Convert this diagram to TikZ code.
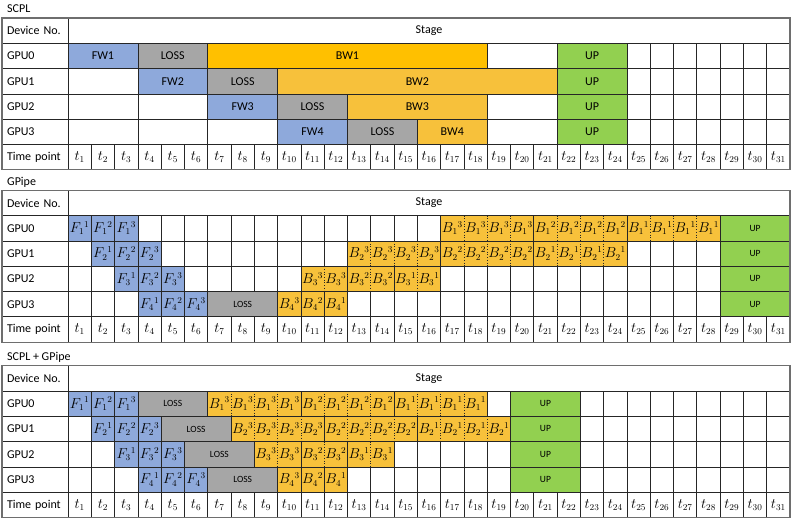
\documentclass[tikz,border=0pt]{standalone}
\usepackage{fontspec}
\setmainfont{Carlito}
\definecolor{gridc}{HTML}{262626}
\definecolor{framec}{HTML}{6E6E6E}
\definecolor{fwc}{HTML}{8EA9DB}
\definecolor{lossc}{HTML}{A6A6A6}
\definecolor{bwac}{HTML}{FFC000}
\definecolor{bwc}{HTML}{F7C13B}
\definecolor{upc}{HTML}{92D050}
\def\cw{23.29}
\def\rh{25.3}
\newcommand\mth[1]{{\fontsize{13.5}{15}\selectfont$#1$}}
\tikzset{
  cell/.style={draw=gridc, line width=0.7pt, inner sep=0pt, outer sep=0pt, anchor=north west, font=\fontsize{12}{14}\selectfont},
  fw/.style={fill=fwc},
  loss/.style={fill=lossc},
  bwa/.style={fill=bwac},
  bw/.style={fill=bwc},
  up/.style={fill=upc},
  emp/.style={fill=white},
  small/.style={font=\fontsize{9.5}{11}\selectfont},
  lbl/.style={inner sep=0pt, font=\fontsize{12}{14}\selectfont},
  dots/.style={draw=gridc, line width=0.7pt, dotted},
  labcell/.style={cell, fill=white, minimum width=66pt, minimum height=\rh pt, text width=57pt, inner xsep=5pt, align=left},
  ttl/.style={inner sep=0pt, anchor=west, font=\fontsize{12}{14}\selectfont},
  outer/.style={draw=framec, line width=1.2pt}
}
\newcommand\seg[7]{%
  \pgfmathsetmacro\sx{68+((#4)-1)*\cw}%
  \pgfmathsetmacro\sy{(#2)+(#3)*\rh}%
  \pgfmathsetmacro\sw{((#5)-(#4)+1)*\cw}%
  \node[cell,#6,minimum width=\sw pt,minimum height=\rh pt] (#1) at (\sx,\sy) {#7};%
}
\newcommand\grp[7]{%
  \seg{#1}{#2}{#3}{#4}{(#4)+(#5)-1}{#6}{}%
  \pgfmathsetmacro\gy{(#2)+(#3)*\rh}%
  \pgfmathsetmacro\gyb{(#2)+((#3)+1)*\rh}%
  \pgfmathsetmacro\gyc{(#2)+((#3)+0.5)*\rh}%
  \pgfmathtruncatemacro\gn{(#5)-1}%
  \foreach \k in {1,...,\gn}{%
    \pgfmathsetmacro\gx{68+((#4)-1+\k)*\cw}%
    \draw[dots] (\gx,\gy) -- (\gx,\gyb);%
  }%
  \foreach \k in {1,...,#5}{%
    \pgfmathsetmacro\gx{68+((#4)-1.5+\k)*\cw}%
    \node[lbl] (#1-\k) at (\gx,\gyc) {\mth{#7}};%
  }%
}
\newcommand\emps[5]{% prefix, top, row, from, to
  \foreach \c in {#4,...,#5}{\seg{#1\c}{#2}{#3}{\c}{\c}{emp}{}}%
}
\newcommand\tblframe[2]{% prefix, top
  \pgfmathsetmacro\fy{#2}%
  \node[labcell] (#1dev) at (2,\fy) {Device No.};
  \pgfmathsetmacro\fy{#2+\rh}%
  \node[labcell] (#1g0) at (2,\fy) {GPU0};
  \pgfmathsetmacro\fy{#2+2*\rh}%
  \node[labcell] (#1g1) at (2,\fy) {GPU1};
  \pgfmathsetmacro\fy{#2+3*\rh}%
  \node[labcell] (#1g2) at (2,\fy) {GPU2};
  \pgfmathsetmacro\fy{#2+4*\rh}%
  \node[labcell] (#1g3) at (2,\fy) {GPU3};
  \pgfmathsetmacro\fy{#2+5*\rh}%
  \node[labcell] (#1tp) at (2,\fy) {Time point};
  \seg{#1stage}{#2}{0}{1}{31}{emp}{Stage}%
  \foreach \c in {1,...,31}{\seg{#1t\c}{#2}{5}{\c}{\c}{emp}{\mth{t_{\c}}}}%
}
\newcommand\outerframe[1]{%
  \pgfmathsetmacro\oy{#1}\pgfmathsetmacro\oyb{#1+6*\rh}%
  \draw[outer] (2,\oy) rectangle (790,\oyb);%
}
\begin{document}
\begin{tikzpicture}[x=1pt,y=-1pt]
\useasboundingbox (0,0) rectangle (793,527);
% ---------- SCPL ----------
\def\T{18}
\node[ttl] (titleA) at (7,9) {SCPL};
\tblframe{a}{\T}
\seg{a1a}{\T}{1}{1}{3}{fw}{FW1}
\seg{a1b}{\T}{1}{4}{6}{loss}{LOSS}
\seg{a1c}{\T}{1}{7}{18}{bwa}{BW1}
\seg{a1d}{\T}{1}{19}{21}{emp}{}
\seg{a1e}{\T}{1}{22}{24}{up}{UP}
\emps{a1x}{\T}{1}{25}{31}
\seg{a2a}{\T}{2}{1}{3}{emp}{}
\seg{a2b}{\T}{2}{4}{6}{fw}{FW2}
\seg{a2c}{\T}{2}{7}{9}{loss}{LOSS}
\seg{a2d}{\T}{2}{10}{21}{bw}{BW2}
\seg{a2e}{\T}{2}{22}{24}{up}{UP}
\emps{a2x}{\T}{2}{25}{31}
\seg{a3a}{\T}{3}{1}{3}{emp}{}
\seg{a3b}{\T}{3}{4}{6}{emp}{}
\seg{a3c}{\T}{3}{7}{9}{fw}{FW3}
\seg{a3d}{\T}{3}{10}{12}{loss}{LOSS}
\seg{a3e}{\T}{3}{13}{18}{bw}{BW3}
\seg{a3f}{\T}{3}{19}{21}{emp}{}
\seg{a3g}{\T}{3}{22}{24}{up}{UP}
\emps{a3x}{\T}{3}{25}{31}
\seg{a4a}{\T}{4}{1}{3}{emp}{}
\seg{a4b}{\T}{4}{4}{6}{emp}{}
\seg{a4c}{\T}{4}{7}{9}{emp}{}
\seg{a4d}{\T}{4}{10}{12}{fw}{FW4}
\seg{a4e}{\T}{4}{13}{15}{loss}{LOSS}
\seg{a4f}{\T}{4}{16}{18}{bw}{BW4}
\seg{a4g}{\T}{4}{19}{21}{emp}{}
\seg{a4h}{\T}{4}{22}{24}{up}{UP}
\emps{a4x}{\T}{4}{25}{31}
\outerframe{\T}
% ---------- GPipe ----------
\def\T{190.3}
\node[ttl] (titleB) at (7,182.5) {GPipe};
\tblframe{b}{\T}
\seg{b1a}{\T}{1}{1}{1}{fw}{\mth{F_{1}{}^{1}}}
\seg{b1b}{\T}{1}{2}{2}{fw}{\mth{F_{1}{}^{2}}}
\seg{b1c}{\T}{1}{3}{3}{fw}{\mth{F_{1}{}^{3}}}
\emps{b1x}{\T}{1}{4}{16}
\grp{b1d}{\T}{1}{17}{4}{bw}{B_{1}{}^{3}}
\grp{b1e}{\T}{1}{21}{4}{bw}{B_{1}{}^{2}}
\grp{b1f}{\T}{1}{25}{4}{bw}{B_{1}{}^{1}}
\seg{b1g}{\T}{1}{29}{31}{up,small}{UP}
\emps{b2x}{\T}{2}{1}{1}
\seg{b2a}{\T}{2}{2}{2}{fw}{\mth{F_{2}{}^{1}}}
\seg{b2b}{\T}{2}{3}{3}{fw}{\mth{F_{2}{}^{2}}}
\seg{b2c}{\T}{2}{4}{4}{fw}{\mth{F_{2}{}^{3}}}
\emps{b2y}{\T}{2}{5}{12}
\grp{b2d}{\T}{2}{13}{4}{bw}{B_{2}{}^{3}}
\grp{b2e}{\T}{2}{17}{4}{bw}{B_{2}{}^{2}}
\grp{b2f}{\T}{2}{21}{4}{bw}{B_{2}{}^{1}}
\emps{b2z}{\T}{2}{25}{28}
\seg{b2g}{\T}{2}{29}{31}{up,small}{UP}
\emps{b3x}{\T}{3}{1}{2}
\seg{b3a}{\T}{3}{3}{3}{fw}{\mth{F_{3}{}^{1}}}
\seg{b3b}{\T}{3}{4}{4}{fw}{\mth{F_{3}{}^{2}}}
\seg{b3c}{\T}{3}{5}{5}{fw}{\mth{F_{3}{}^{3}}}
\emps{b3y}{\T}{3}{6}{10}
\grp{b3d}{\T}{3}{11}{2}{bw}{B_{3}{}^{3}}
\grp{b3e}{\T}{3}{13}{2}{bw}{B_{3}{}^{2}}
\grp{b3f}{\T}{3}{15}{2}{bw}{B_{3}{}^{1}}
\emps{b3z}{\T}{3}{17}{28}
\seg{b3g}{\T}{3}{29}{31}{up,small}{UP}
\emps{b4x}{\T}{4}{1}{3}
\seg{b4a}{\T}{4}{4}{4}{fw}{\mth{F_{4}{}^{1}}}
\seg{b4b}{\T}{4}{5}{5}{fw}{\mth{F_{4}{}^{2}}}
\seg{b4c}{\T}{4}{6}{6}{fw}{\mth{F_{4}{}^{3}}}
\seg{b4d}{\T}{4}{7}{9}{loss,small}{LOSS}
\seg{b4e}{\T}{4}{10}{10}{bw}{\mth{B_{4}{}^{3}}}
\seg{b4f}{\T}{4}{11}{11}{bw}{\mth{B_{4}{}^{2}}}
\seg{b4g}{\T}{4}{12}{12}{bw}{\mth{B_{4}{}^{1}}}
\emps{b4z}{\T}{4}{13}{28}
\seg{b4h}{\T}{4}{29}{31}{up,small}{UP}
\outerframe{\T}
% ---------- SCPL + GPipe ----------
\def\T{365.7}
\node[ttl] (titleC) at (7,357) {SCPL + GPipe};
\tblframe{c}{\T}
\seg{c1a}{\T}{1}{1}{1}{fw}{\mth{F_{1}{}^{1}}}
\seg{c1b}{\T}{1}{2}{2}{fw}{\mth{F_{1}{}^{2}}}
\seg{c1c}{\T}{1}{3}{3}{fw}{\mth{F_{1}{}^{3}}}
\seg{c1l}{\T}{1}{4}{6}{loss,small}{LOSS}
\grp{c1d}{\T}{1}{7}{4}{bw}{B_{1}{}^{3}}
\grp{c1e}{\T}{1}{11}{4}{bw}{B_{1}{}^{2}}
\grp{c1f}{\T}{1}{15}{4}{bw}{B_{1}{}^{1}}
\emps{c1x}{\T}{1}{19}{19}
\seg{c1g}{\T}{1}{20}{22}{up,small}{UP}
\emps{c1z}{\T}{1}{23}{31}
\emps{c2x}{\T}{2}{1}{1}
\seg{c2a}{\T}{2}{2}{2}{fw}{\mth{F_{2}{}^{1}}}
\seg{c2b}{\T}{2}{3}{3}{fw}{\mth{F_{2}{}^{2}}}
\seg{c2c}{\T}{2}{4}{4}{fw}{\mth{F_{2}{}^{3}}}
\seg{c2l}{\T}{2}{5}{7}{loss,small}{LOSS}
\grp{c2d}{\T}{2}{8}{4}{bw}{B_{2}{}^{3}}
\grp{c2e}{\T}{2}{12}{4}{bw}{B_{2}{}^{2}}
\grp{c2f}{\T}{2}{16}{4}{bw}{B_{2}{}^{1}}
\seg{c2g}{\T}{2}{20}{22}{up,small}{UP}
\emps{c2z}{\T}{2}{23}{31}
\emps{c3x}{\T}{3}{1}{2}
\seg{c3a}{\T}{3}{3}{3}{fw}{\mth{F_{3}{}^{1}}}
\seg{c3b}{\T}{3}{4}{4}{fw}{\mth{F_{3}{}^{2}}}
\seg{c3c}{\T}{3}{5}{5}{fw}{\mth{F_{3}{}^{3}}}
\seg{c3l}{\T}{3}{6}{8}{loss,small}{LOSS}
\grp{c3d}{\T}{3}{9}{2}{bw}{B_{3}{}^{3}}
\grp{c3e}{\T}{3}{11}{2}{bw}{B_{3}{}^{2}}
\grp{c3f}{\T}{3}{13}{2}{bw}{B_{3}{}^{1}}
\emps{c3y}{\T}{3}{15}{19}
\seg{c3g}{\T}{3}{20}{22}{up,small}{UP}
\emps{c3z}{\T}{3}{23}{31}
\emps{c4x}{\T}{4}{1}{3}
\seg{c4a}{\T}{4}{4}{4}{fw}{\mth{F_{4}{}^{1}}}
\seg{c4b}{\T}{4}{5}{5}{fw}{\mth{F_{4}{}^{2}}}
\seg{c4c}{\T}{4}{6}{6}{fw}{\mth{F_{4}{}^{3}}}
\seg{c4d}{\T}{4}{7}{9}{loss,small}{LOSS}
\seg{c4e}{\T}{4}{10}{10}{bw}{\mth{B_{4}{}^{3}}}
\seg{c4f}{\T}{4}{11}{11}{bw}{\mth{B_{4}{}^{2}}}
\seg{c4g}{\T}{4}{12}{12}{bw}{\mth{B_{4}{}^{1}}}
\emps{c4y}{\T}{4}{13}{19}
\seg{c4h}{\T}{4}{20}{22}{up,small}{UP}
\emps{c4z}{\T}{4}{23}{31}
\outerframe{\T}
\end{tikzpicture}
\end{document}
